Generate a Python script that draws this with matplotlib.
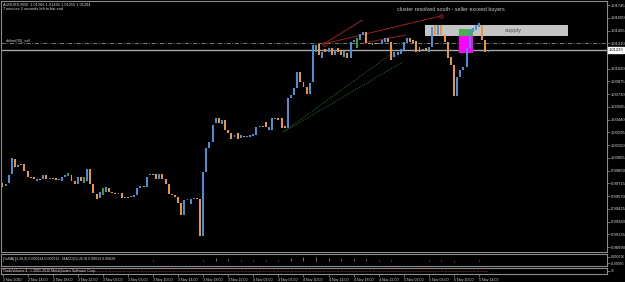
import numpy as np
import matplotlib
matplotlib.use("Agg")
import matplotlib.pyplot as plt
from matplotlib.patches import Rectangle
from matplotlib.transforms import blended_transform_factory

# AUDUSD M30 candles, 2-5 Nov 2010
opens = [0.99719, 0.99685, 0.99719, 0.99822, 0.99993, 0.99902, 0.99936, 0.99936, 0.99856, 0.99788,
         0.99788, 0.99742, 0.99765, 0.99765, 0.99811, 0.99765, 0.99776, 0.99776, 0.99754, 0.99742,
         0.99788, 0.99799, 0.99811, 0.99742, 0.99708, 0.99788, 0.99719, 0.99742, 0.99879, 0.99708,
         0.99594, 0.99549, 0.99583, 0.99617, 0.99663, 0.99617, 0.99606, 0.99594, 0.99606, 0.99549,
         0.99560, 0.99560, 0.99560, 0.99583, 0.99663, 0.99685, 0.99674, 0.99811, 0.99822, 0.99822,
         0.99765, 0.99822, 0.99765, 0.99708, 0.99594, 0.99583, 0.99560, 0.99492, 0.99355, 0.99526,
         0.99480, 0.99537, 0.99549, 0.99537, 0.99116, 0.99845, 1.00118, 1.00186, 1.00402, 1.00459,
         1.00391, 1.00436, 1.00323, 1.00289, 1.00243, 1.00289, 1.00232, 1.00254, 1.00243, 1.00243,
         1.00254, 1.00266, 1.00357, 1.00368, 1.00414, 1.00323, 1.00323, 1.00448, 1.00459, 1.00459,
         1.00368, 1.00345, 1.00687, 1.00721, 1.00801, 1.00983, 1.00869, 1.00812, 1.00732, 1.00869,
         1.01210, 1.01301, 1.01142, 1.01244, 1.01210, 1.01256, 1.01176, 1.01256, 1.01233, 1.01153,
         1.01199, 1.01142, 1.01324, 1.01256, 1.01347, 1.01404, 1.01438, 1.01313, 1.01290, 1.01313,
         1.01301, 1.01301, 1.01324, 1.01370, 1.01324, 1.01153, 1.01176, 1.01188, 1.01233, 1.01313,
         1.01370, 1.01347, 1.01335, 1.01267, 1.01233, 1.01256, 1.01210, 1.01267, 1.01518, 1.01404,
         1.01518, 1.01404, 1.01324, 1.01153, 1.01062, 1.00710, 1.00926, 1.01005, 1.01040, 1.01256,
         1.01438, 1.01461, 1.01495, 1.01518, 1.01347, 1.01210]
closes = [0.99674, 0.99708, 0.99811, 1.00004, 0.99902, 0.99924, 0.99924, 0.99856, 0.99788, 0.99776,
          0.99765, 0.99765, 0.99754, 0.99811, 0.99765, 0.99776, 0.99765, 0.99754, 0.99765, 0.99788,
          0.99811, 0.99833, 0.99742, 0.99708, 0.99788, 0.99742, 0.99788, 0.99879, 0.99708, 0.99606,
          0.99537, 0.99617, 0.99663, 0.99674, 0.99617, 0.99606, 0.99594, 0.99606, 0.99549, 0.99560,
          0.99549, 0.99572, 0.99583, 0.99663, 0.99685, 0.99674, 0.99788, 0.99822, 0.99811, 0.99765,
          0.99822, 0.99765, 0.99708, 0.99594, 0.99583, 0.99560, 0.99492, 0.99355, 0.99526, 0.99537,
          0.99537, 0.99549, 0.99537, 0.99116, 0.99845, 1.00118, 1.00186, 1.00380, 1.00459, 1.00402,
          1.00436, 1.00323, 1.00289, 1.00220, 1.00266, 1.00220, 1.00266, 1.00243, 1.00254, 1.00266,
          1.00277, 1.00357, 1.00368, 1.00357, 1.00357, 1.00357, 1.00459, 1.00459, 1.00436, 1.00345,
          1.00345, 1.00687, 1.00721, 1.00801, 1.00983, 1.00869, 1.00812, 1.00732, 1.00858, 1.01290,
          1.01290, 1.01176, 1.01210, 1.01210, 1.01256, 1.01176, 1.01233, 1.01210, 1.01176, 1.01222,
          1.01142, 1.01324, 1.01347, 1.01370, 1.01415, 1.01438, 1.01313, 1.01301, 1.01313, 1.01301,
          1.01313, 1.01347, 1.01370, 1.01324, 1.01119, 1.01210, 1.01210, 1.01244, 1.01324, 1.01370,
          1.01324, 1.01313, 1.01210, 1.01210, 1.01244, 1.01222, 1.01267, 1.01495, 1.01404, 1.01518,
          1.01404, 1.01324, 1.01142, 1.01062, 1.00710, 1.00926, 1.01005, 1.01040, 1.01256, 1.01461,
          1.01483, 1.01518, 1.01540, 1.01347, 1.01210, 1.01233]
green_bars = [21, 26, 32, 113]

price_ticks = [1.01745, 1.01600, 1.01455, 1.01310, 1.01020, 1.00875, 1.00730, 1.00585, 1.00440,
               1.00295, 1.00150, 1.00005, 0.99860, 0.99715, 0.99570, 0.99425, 0.99280, 0.99135, 0.98990]

time_labels = ["2 Nov 2010", "2 Nov 14:00", "2 Nov 18:00", "2 Nov 22:00", "3 Nov 02:00",
               "3 Nov 06:00", "3 Nov 10:00", "3 Nov 14:00", "3 Nov 18:00", "3 Nov 22:00",
               "4 Nov 02:00", "4 Nov 06:00", "4 Nov 10:00", "4 Nov 14:00", "4 Nov 18:00",
               "4 Nov 22:00", "5 Nov 02:00", "5 Nov 06:00", "5 Nov 10:00", "5 Nov 14:00"]
time_pos = [0, 8, 16, 24, 32, 40, 48, 56, 64, 72, 80, 88, 96, 104, 112, 120, 128, 136, 144, 152]

# OsMA histogram, sampled every 4 bars
osma_x = [0, 4, 8, 12, 16, 20, 24, 28, 32, 36, 40, 44, 48, 52, 56, 60, 64, 68, 72, 76,
          80, 84, 88, 92, 96, 100, 104, 108, 112, 116, 120, 124, 128, 132, 136, 140, 144, 148, 152]
osma = [0.00002, 0.00005, -0.00003, -0.00004, -0.00002, 0.00001, 0.0, -0.00002, -0.00005, -0.00004,
        -0.00003, 0.00001, 0.00004, 0.00001, -0.00005, -0.00006, 0.00008, 0.00022, 0.00016, 0.00008,
        0.00004, 0.00006, 0.00005, 0.00018, 0.00024, 0.00030, 0.00022, 0.00012, 0.00010, 0.00011,
        0.00006, 0.00002, 0.00001, 0.0, 0.00003, 0.00006, -0.00012, -0.00006, 0.00002]

# chart objects drawn by the trader: (bar index, price)
sell_line = 1.01313
red_lines = [[(102.4, 1.01301), (114.8, 1.01574)],
             [(102.4, 1.01301), (139.7, 1.01620)],
             [(115.2, 1.01313), (128.5, 1.01404)]]
green_lines = [[(89.6, 1.00300), (124.4, 1.01199)],
               [(89.6, 1.00300), (127.6, 1.01096)]]
supply_box = (134.6, 180.5, 1.01392, 1.01518)
green_box = (145.5, 150.0, 1.01392, 1.01472)
magenta_box = (145.5, 150.0, 1.01199, 1.01392)

BLUE = "#4a8fd6"
ORANGE = "#e6963c"
GREEN = "#3c9a3c"
GREY = "#8c8c8c"
TXT = "#d8d8d8"

plt.rcParams['font.family'] = ['Liberation Sans', 'DejaVu Sans']

W, H = 625, 282
fig = plt.figure(figsize=(6.25, 2.82), dpi=100, facecolor="black")


def rect(x0, y0, x1, y1):
    return [x0 / W, 1 - y1 / H, (x1 - x0) / W, (y1 - y0) / H]


ax = fig.add_axes(rect(1, 1, 607, 252))
ax1 = fig.add_axes(rect(1, 254, 607, 266), sharex=ax)
ax2 = fig.add_axes(rect(1, 268, 607, 274), sharex=ax)

for a in (ax, ax1, ax2):
    a.set_facecolor("black")
    for s in a.spines.values():
        s.set_color(GREY)
        s.set_linewidth(0.8)
    a.yaxis.tick_right()
    a.tick_params(axis="y", colors=GREY, labelcolor=TXT, labelsize=3.0, length=2, width=0.5, pad=1)
    a.tick_params(axis="x", bottom=False, labelbottom=False)

ax.set_xlim(-0.48, 192.8)
ax.set_ylim(0.98934, 1.01791)

# candles
x = np.arange(len(opens))
op = np.array(opens)
cl = np.array(closes)
colors = [BLUE if c >= o else ORANGE for o, c in zip(op, cl)]
for i in green_bars:
    colors[i] = GREEN
ax.bar(x, cl - op, bottom=op, width=0.62, color=colors, linewidth=0, zorder=3)

# objects
sx0, sx1, sy0, sy1 = supply_box
ax.add_patch(Rectangle((sx0, sy0), sx1 - sx0, sy1 - sy0, facecolor="#c4c4c4", edgecolor="none", zorder=1))
ax.text(163, (sy0 + sy1) / 2, "supply", color="#505050", fontsize=4.2,
        ha="center", va="center", zorder=2)
gx0, gx1, gy0, gy1 = green_box
ax.add_patch(Rectangle((gx0, gy0), gx1 - gx0, gy1 - gy0, facecolor="#4caf50", edgecolor="none", zorder=1.5))
mx0, mx1, my0, my1 = magenta_box
ax.add_patch(Rectangle((mx0, my0), mx1 - mx0, my1 - my0, facecolor="#ff00ff", edgecolor="none", zorder=1.5))

for (p0, p1) in red_lines:
    ax.plot([p0[0], p1[0]], [p0[1], p1[1]], color="#9a2020", lw=0.7, zorder=2)
ax.plot([red_lines[0][0][0], red_lines[1][1][0]], [red_lines[0][0][1], red_lines[1][1][1]],
        "o", ms=2.5, mfc="none", mec="#b02020", mew=0.6, zorder=2)
for (p0, p1) in green_lines:
    ax.plot([p0[0], p1[0]], [p0[1], p1[1]], color="#2e8b2e", lw=0.6, ls=(0, (1, 1.5)), zorder=2)

ax.axhline(sell_line, color="#7f957f", lw=0.6, ls=(0, (5, 2, 1, 2)), zorder=1)
ax.axhline(closes[-1], color="#a8a8a8", lw=1.0, zorder=1)

ax.set_yticks(price_ticks)
ax.set_yticklabels(["%.5f" % p for p in price_ticks])
tr = blended_transform_factory(ax.transAxes, ax.transData)
ax.text(1.003, closes[-1], "%.5f" % closes[-1], transform=tr, fontsize=3.0, color="black",
        va="center", ha="left", bbox=dict(facecolor="white", edgecolor="white", pad=0.4), clip_on=False)

ax.text(0.003, 0.995, "AUDUSD,M30  1.01266 1.01492 1.01255 1.01294", transform=ax.transAxes,
        color=TXT, fontsize=2.8, va="top", ha="left")
ax.text(0.003, 0.978, "7 minutes 2 seconds left to bar end", transform=ax.transAxes,
        color=TXT, fontsize=2.8, va="top", ha="left")
ax.text(1, sell_line, "ahline(00)_sell", color=TXT, fontsize=2.8, va="bottom", ha="left")
ax.text(143, 1.01690, "cluster resolved south - seller exceed buyers", color="#c8c8c8",
        fontsize=3.9, ha="center", va="center")

# OsMA / MACD panel
ax1.set_ylim(-0.0004, 0.0005)
ax1.vlines(osma_x, 0, osma, color="#a0a0a0", lw=0.5)
ax1.set_yticks([0.00028, -0.00018])
ax1.set_yticklabels(["0.000616", "-0.00050"])
ax1.tick_params(axis="y", labelsize=2.4)
ax1.text(0.003, 0.55, "OsMA(12,26,9) 0.000234 0.000312   MACD(12,26,9) 0.00013 0.00029",
         transform=ax1.transAxes, color=TXT, fontsize=2.6, va="center", ha="left")

# volume-type panel
ax2.set_ylim(0, 1)
ax2.hlines(0.5, 0, len(closes) - 1, color="#b04040", lw=0.5, ls=(0, (1, 1)))
ax2.set_yticks([0.5])
ax2.set_yticklabels(["35"])
ax2.tick_params(axis="y", labelsize=2.4)
ax2.text(0.003, 0.5, "TradeVolume 4  \u00a9 2001-2010 MetaQuotes Software Corp.",
         transform=ax2.transAxes, color=TXT, fontsize=2.6, va="center", ha="left")

ax2.tick_params(axis="x", bottom=True, labelbottom=True, colors=GREY, labelcolor=TXT,
                labelsize=2.6, length=2, width=0.5, pad=1)
ax2.set_xticks(time_pos)
ax2.set_xticklabels(time_labels)
for lab in ax2.get_xticklabels():
    lab.set_ha("left")

fig.savefig("out.png", dpi=100, facecolor="black")
